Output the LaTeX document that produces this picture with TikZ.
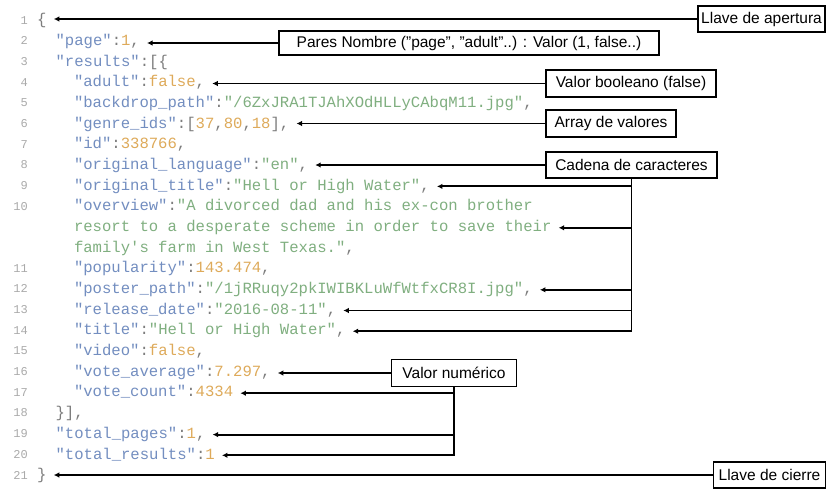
\documentclass[tikz,border=0pt]{standalone}
\usepackage{fontspec}
\setsansfont{Liberation Sans}
\setmonofont{Liberation Mono}
\usetikzlibrary{arrows.meta}

\definecolor{keyc}{RGB}{115,142,192}
\definecolor{strc}{RGB}{128,175,128}
\definecolor{numc}{RGB}{222,170,90}
\definecolor{punc}{RGB}{125,125,125}
\definecolor{lnum}{RGB}{170,170,170}

% json tokens
\newcommand\jk[1]{\textcolor{keyc}{"#1"}}
\newcommand\js[1]{\textcolor{strc}{"#1"}}
\newcommand\jn[1]{\textcolor{numc}{#1}}

\begin{document}
\begin{tikzpicture}[x=1pt,y=-1pt,
  code/.style={anchor=west,inner sep=0pt,text=punc,text height=11pt,text depth=3.5pt,font=\ttfamily\fontsize{15.6}{18}\selectfont},
  lno/.style={anchor=east,inner sep=0pt,text=lnum,text height=9pt,text depth=3pt,font=\ttfamily\fontsize{12}{14}\selectfont},
  lbl/.style={draw,line width=1.8pt,fill=white,inner sep=2pt,font=\sffamily\fontsize{15.5}{17}\selectfont},
  arr/.style={-{Latex[length=5.5pt,width=5.5pt]},line width=1.9pt}]
  \useasboundingbox (0,0) rectangle (834,488);
  \fill[white] (0,0) rectangle (834,488);
  % line numbers
  \foreach \n/\y in {1/21,2/41.7,3/62.4,4/83,5/103.7,6/124.4,7/145.1,8/165.8,9/186.4,10/207.1,
    11/269.2,12/289.8,13/310.5,14/331.2,15/351.9,16/372.6,17/393.2,18/413.9,19/434.6,20/455.3,21/476}
    \node[lno] (n\n) at (28,\y) {\n};
  % code
  \node[code] (c1) at (37,21) {\{};
  \node[code] (c2) at (55.4,41.7) {\jk{page}:\jn{1},};
  \node[code] (c3) at (55.4,62.4) {\jk{results}:[\{};
  \node[code] (c4) at (73.8,83) {\jk{adult}:\jn{false},};
  \node[code] (c5) at (73.8,103.7) {\jk{backdrop\_path}:\js{/6ZxJRA1TJAhXOdHLLyCAbqM11.jpg},};
  \node[code] (c6) at (73.8,124.4) {\jk{genre\_ids}:[\jn{37},\jn{80},\jn{18}],};
  \node[code] (c7) at (73.8,145.1) {\jk{id}:\jn{338766},};
  \node[code] (c8) at (73.8,165.8) {\jk{original\_language}:\js{en},};
  \node[code] (c9) at (73.8,186.4) {\jk{original\_title}:\js{Hell or High Water},};
  \node[code] (c10) at (73.8,207.1) {\jk{overview}:\textcolor{strc}{"A divorced dad and his ex-con brother}};
  \node[code] (c10b) at (73.8,227.8) {\textcolor{strc}{resort to a desperate scheme in order to save their}};
  \node[code] (c10c) at (73.8,248.5) {\textcolor{strc}{family's farm in West Texas."},};
  \node[code] (c11) at (73.8,269.2) {\jk{popularity}:\jn{143.474},};
  \node[code] (c12) at (73.8,289.8) {\jk{poster\_path}:\js{/1jRRuqy2pkIWIBKLuWfWtfxCR8I.jpg},};
  \node[code] (c13) at (73.8,310.5) {\jk{release\_date}:\js{2016-08-11},};
  \node[code] (c14) at (73.8,331.2) {\jk{title}:\js{Hell or High Water},};
  \node[code] (c15) at (73.8,351.9) {\jk{video}:\jn{false},};
  \node[code] (c16) at (73.8,372.6) {\jk{vote\_average}:\jn{7.297},};
  \node[code] (c17) at (73.8,393.2) {\jk{vote\_count}:\jn{4334}};
  \node[code] (c18) at (55.4,413.9) {\}],};
  \node[code] (c19) at (55.4,434.6) {\jk{total\_pages}:\jn{1},};
  \node[code] (c20) at (55.4,455.3) {\jk{total\_results}:\jn{1}};
  \node[code] (c21) at (37,476) {\}};
  % labels
  \node[lbl,minimum width=127pt,minimum height=26pt] (open) at (761.5,19) {Llave de apertura};
  \node[lbl,minimum width=380pt,minimum height=24pt] (pares) at (469,43) {Pares Nombre ("page", "adult"..) : Valor (1, false..)};
  \node[lbl,minimum width=170pt,minimum height=27pt] (bool) at (631,83.5) {Valor booleano (false)};
  \node[lbl,minimum width=130pt,minimum height=27pt] (vals) at (611,123.5) {Array de valores};
  \node[lbl,minimum width=171pt,minimum height=26pt] (cad) at (631.5,165) {Cadena de caracteres};
  \node[lbl,minimum width=125pt,minimum height=27pt] (num) at (454,373) {Valor numérico};
  \node[lbl,minimum width=112pt,minimum height=26pt] (close) at (769.5,475) {Llave de cierre};
  % arrows
  \draw[arr] (open.west) -- ([xshift=7pt]c1.east |- open.west);
  \draw[arr] (pares.west) -- ([xshift=7pt]c2.east |- pares.west);
  \draw[arr] (bool.west) -- ([xshift=7pt]c4.east |- bool.west);
  \draw[arr] (vals.west) -- ([xshift=7pt]c6.east |- vals.west);
  \draw[arr] (cad.west) -- ([xshift=7pt]c8.east |- cad.west);
  \foreach \t in {c9,c10b,c12,c13,c14} \draw[arr] (cad.south) |- ([xshift=7pt]\t.east);
  \draw[arr] (num.west) -- ([xshift=7pt]c16.east |- num.west);
  \foreach \t in {c17,c19,c20} \draw[arr] (num.south) |- ([xshift=7pt]\t.east);
  \draw[arr] (close.west) -- ([xshift=7pt]c21.east |- close.west);
\end{tikzpicture}
\end{document}
